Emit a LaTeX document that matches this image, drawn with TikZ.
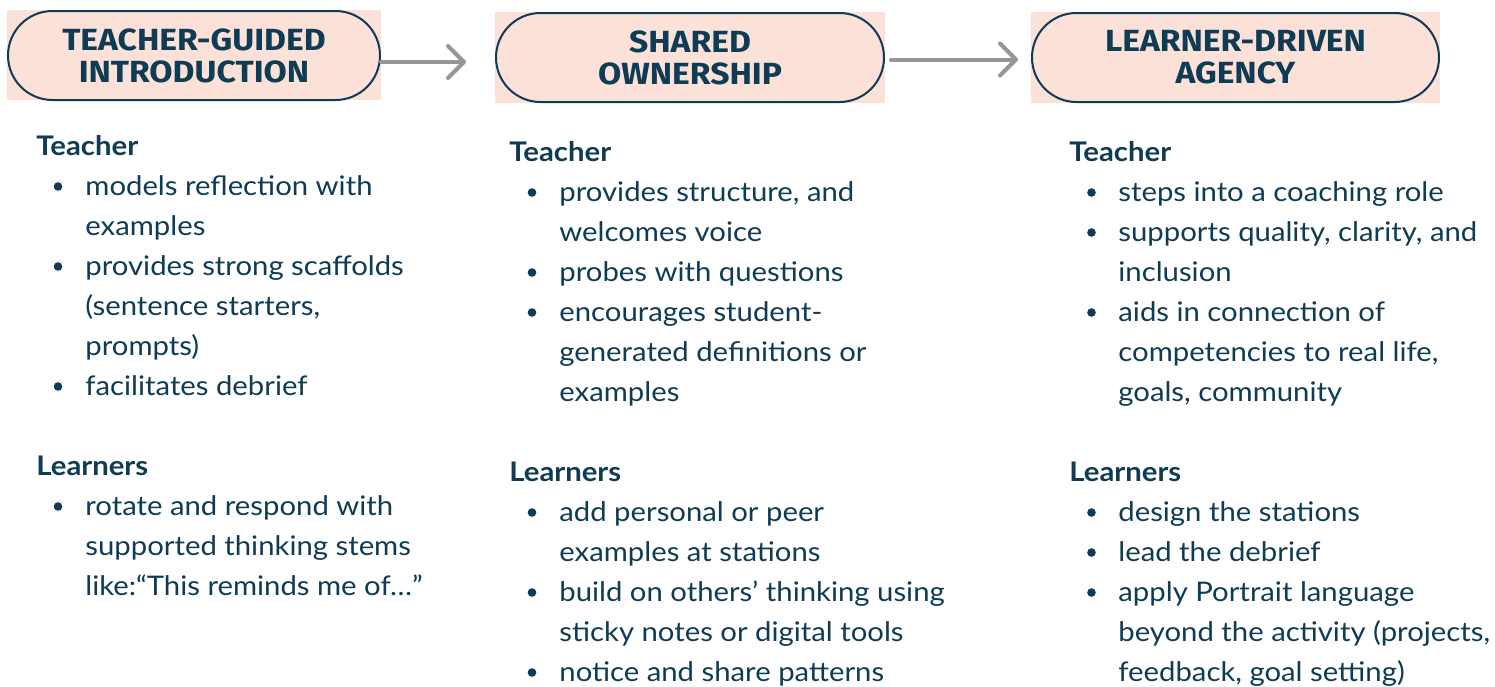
\documentclass[tikz,border=0pt]{standalone}
\usepackage{fontspec}
\setmainfont{Lato}[FakeStretch=1.085]
\newfontfamily\headfont{Fira Sans}[FakeStretch=1.1]
\usetikzlibrary{arrows.meta,shapes.misc}
\definecolor{ink}{HTML}{0E3C55}
\definecolor{blush}{HTML}{FCE1D9}
\definecolor{flowgray}{HTML}{969696}

\begin{document}
\begin{tikzpicture}[x=0.5pt,y=-0.5pt,
  pill/.style={rounded rectangle, draw=ink, line width=1pt, fill=blush,
    minimum height=44.5pt, inner sep=0pt, align=center, text=ink,
    font=\headfont\bfseries\fontsize{15.3}{16}\selectfont},
  flow/.style={draw=flowgray, line width=2pt, line cap=round,
    -{Straight Barb[length=8pt,width=16pt,round]}},
  heading/.style={anchor=base west, inner sep=0pt, text=ink,
    font=\bfseries\fontsize{13.5}{20}\selectfont},
  itemtext/.style={anchor=base west, inner sep=0pt, text=ink,
    font=\fontsize{13.5}{20}\selectfont},
  dot/.style={circle, fill=ink, inner sep=0pt, minimum size=4.3pt}]
\useasboundingbox (0,0) rectangle (1495,686);
\clip (0,0) rectangle (1495,686);
\fill[white] (0,0) rectangle (1495,686);

% stage headers: tinted panels with pill-shaped labels
\fill[blush] (7,10) rectangle (381,100);
\fill[blush] (495,12) rectangle (885,103);
\fill[blush] (1031,12) rectangle (1440,103);
\node[pill, minimum width=186pt] (p1) at (194,55.5) {TEACHER-GUIDED\\INTRODUCTION};
\node[pill, minimum width=194pt] (p2) at (690,57.5) {SHARED\\OWNERSHIP};
\node[pill, minimum width=203.5pt] (p3) at (1235.5,57.5) {LEARNER-DRIVEN\\AGENCY};

% progression arrows
\coordinate (a1) at (466,62);
\coordinate (a2) at (1018,59.5);
\draw[flow] (p1.east |- a1) -- (a1);
\draw[flow] ([xshift=3pt]p2.east |- a2) -- (a2);

% column 1
\node[heading] (t1) at (36,155) {Teacher};
\node[dot] (t1b1) at (58,186.5) {};
\node[itemtext] (t1i1) at (85,195) {\parbox[t]{200pt}{models reflection with\\examples}};
\node[dot] (t1b2) at (58,266.5) {};
\node[itemtext] (t1i2) at (85,275) {\parbox[t]{200pt}{provides strong scaffolds\\(sentence starters,\\prompts)}};
\node[dot] (t1b3) at (58,386.5) {};
\node[itemtext] (t1i3) at (85,395) {\parbox[t]{200pt}{facilitates debrief}};
\node[heading] (l1) at (36,475) {Learners};
\node[dot] (l1b1) at (58,506.5) {};
\node[itemtext] (l1i1) at (85,515) {\parbox[t]{200pt}{rotate and respond with\\supported thinking stems\\like:“This reminds me of…”}};

% column 2
\node[heading] (t2) at (509,161) {Teacher};
\node[dot] (t2b1) at (532,192.5) {};
\node[itemtext] (t2i1) at (559,201) {\parbox[t]{220pt}{provides structure, and\\welcomes voice}};
\node[dot] (t2b2) at (532,272.5) {};
\node[itemtext] (t2i2) at (559,281) {\parbox[t]{220pt}{probes with questions}};
\node[dot] (t2b3) at (532,312.5) {};
\node[itemtext] (t2i3) at (559,321) {\parbox[t]{220pt}{encourages student-\\generated definitions or\\examples}};
\node[heading] (l2) at (509,481) {Learners};
\node[dot] (l2b1) at (532,512.5) {};
\node[itemtext] (l2i1) at (559,521) {\parbox[t]{220pt}{add personal or peer\\examples at stations}};
\node[dot] (l2b2) at (532,592.5) {};
\node[itemtext] (l2i2) at (559,601) {\parbox[t]{220pt}{build on others’ thinking using\\sticky notes or digital tools}};
\node[dot] (l2b3) at (532,672.5) {};
\node[itemtext] (l2i3) at (559,681) {\parbox[t]{220pt}{notice and share patterns}};

% column 3
\node[heading] (t3) at (1069,161) {Teacher};
\node[dot] (t3b1) at (1091.5,192.5) {};
\node[itemtext] (t3i1) at (1118,201) {\parbox[t]{200pt}{steps into a coaching role}};
\node[dot] (t3b2) at (1091.5,232.5) {};
\node[itemtext] (t3i2) at (1118,241) {\parbox[t]{200pt}{supports quality, clarity, and\\inclusion}};
\node[dot] (t3b3) at (1091.5,312.5) {};
\node[itemtext] (t3i3) at (1118,321) {\parbox[t]{200pt}{aids in connection of\\competencies to real life,\\goals, community}};
\node[heading] (l3) at (1069,481) {Learners};
\node[dot] (l3b1) at (1091.5,512.5) {};
\node[itemtext] (l3i1) at (1118,521) {\parbox[t]{200pt}{design the stations}};
\node[dot] (l3b2) at (1091.5,552.5) {};
\node[itemtext] (l3i2) at (1118,561) {\parbox[t]{200pt}{lead the debrief}};
\node[dot] (l3b3) at (1091.5,592.5) {};
\node[itemtext] (l3i3) at (1118,601) {\parbox[t]{200pt}{apply Portrait language\\beyond the activity (projects,\\feedback, goal setting)}};
\end{tikzpicture}
\end{document}
